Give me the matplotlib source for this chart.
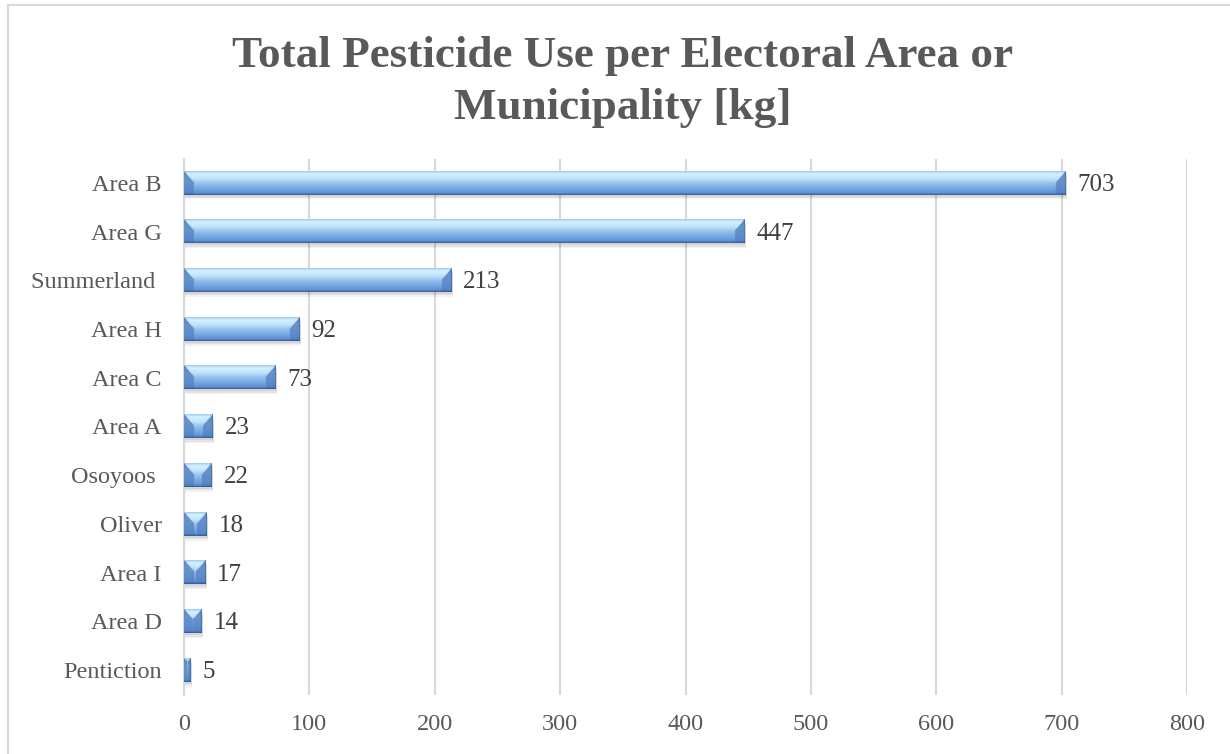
import numpy as np
import matplotlib
matplotlib.use("Agg")
import matplotlib.pyplot as plt
from matplotlib.lines import Line2D

# ---- data ----
categories = ["Area B", "Area G", "Summerland ", "Area H", "Area C", "Area A",
              "Osoyoos ", "Oliver", "Area I", "Area D", "Pentiction"]
values = [703, 447, 213, 92, 73, 23, 22, 18, 17, 14, 5]
x_ticks = [0, 100, 200, 300, 400, 500, 600, 700, 800]
title = "Total Pesticide Use per Electoral Area or\nMunicipality [kg]"

plt.rcParams['font.family'] = ['Liberation Serif', 'DejaVu Serif']

W, H = 1230, 754
fig = plt.figure(figsize=(W / 100, H / 100), dpi=100)
ax = fig.add_axes([184 / W, 1 - 694.5 / H, (1187 - 184) / W, (694.5 - 158.5) / H])

n = len(categories)
ypos = np.arange(n)
bar_h = 0.48

px_per_x = (1187 - 184) / 800.0
px_per_y = (694.5 - 158.5) / n


def hex2rgb(h):
    h = h.lstrip('#')
    return np.array([int(h[i:i + 2], 16) / 255 for i in (0, 2, 4)])


grad_stops = [0.0, 0.12, 0.3, 0.55, 1.0]
grad_cols = [hex2rgb(c) for c in ['#9cc9f0', '#d6f1ff', '#c2e6fc', '#8dbdeb', '#5687cc']]
dark_side = hex2rgb('#3f6db4')
bottom_dark = hex2rgb('#2c4e82')


def face_color(t):
    out = np.zeros(t.shape + (3,))
    for c in range(3):
        out[..., c] = np.interp(t, grad_stops, [g[c] for g in grad_cols])
    return out


def bevel_image(wpx, hpx, b=10.0):
    wpx = max(int(round(wpx * 3)), 3)
    hpx = max(int(round(hpx * 3)), 3)
    b = b * 3
    xs = np.arange(wpx) + 0.5
    ys = np.arange(hpx) + 0.5
    X, Y = np.meshgrid(xs, ys)
    t = Y / hpx
    img = face_color(t)
    dl = X
    dr = wpx - X
    dt = Y
    db = hpx - Y
    bb = min(b, wpx / 2.0)
    # side bevels (triangular, visible mostly at the top)
    m_left = (dl < bb) & (dl < dt * 0.9)
    m_right = (dr < bb) & (dr < dt * 0.9)
    a_side = (0.85 * (1 - t) + 0.35 * t)[..., None]
    side = img * (1 - a_side) + dark_side * a_side
    img = np.where((m_left | m_right)[..., None], side, img)
    # bottom dark rim
    rim = np.clip(1 - db / 6.0, 0, 1)[..., None]
    img = img * (1 - rim * 0.85) + bottom_dark * rim * 0.85
    # right dark rim
    rimr = np.clip(1 - dr / 4.0, 0, 1)[..., None]
    img = img * (1 - rimr * 0.6) + bottom_dark * rimr * 0.6
    return np.clip(img, 0, 1)


for y, v in zip(ypos, values):
    # soft shadow
    for k, al in [(0.10, 0.05), (0.07, 0.06), (0.04, 0.06)]:
        ax.barh(y + k, v + 1.2, height=bar_h, left=0, color='#000000', alpha=al,
                zorder=2, linewidth=0)
    img = bevel_image(v * px_per_x, bar_h * px_per_y)
    ax.imshow(img, extent=[0, v, y + bar_h / 2, y - bar_h / 2], aspect='auto',
              interpolation='bilinear', zorder=3)
    ax.annotate(str(v), xy=(v, y), xytext=(12, -2), textcoords='offset pixels',
                ha='left', va='center', fontsize=18, color='#404040', zorder=4)

ax.set_xlim(0, 800)
ax.set_ylim(n - 0.5, -0.5)
ax.set_yticks(ypos)
ax.set_yticklabels(categories)
ax.set_xticks(x_ticks)
ax.tick_params(axis='both', length=0, labelsize=17.5, labelcolor='#595959')
ax.tick_params(axis='y', pad=16)
ax.tick_params(axis='x', pad=14)
ax.xaxis.grid(True, color='#d9d9d9', linewidth=1.5)
ax.set_axisbelow(True)
for s in ['top', 'right', 'bottom']:
    ax.spines[s].set_visible(False)
ax.spines['left'].set_color('#d9d9d9')
ax.spines['left'].set_linewidth(1.5)

fig.text(623 / W, 1 - 82 / H, title, ha='center', va='center', fontsize=32.5,
         fontweight='bold', color='#595959', linespacing=1.4)

# chart border
fig.add_artist(Line2D([8 / W, 8 / W], [0, 1 - 5 / H], color='#d9d9d9', lw=1.5,
                      transform=fig.transFigure))
fig.add_artist(Line2D([8 / W, 1], [1 - 5 / H, 1 - 5 / H], color='#d9d9d9', lw=1.5,
                      transform=fig.transFigure))

fig.savefig('out.png', dpi=100)
